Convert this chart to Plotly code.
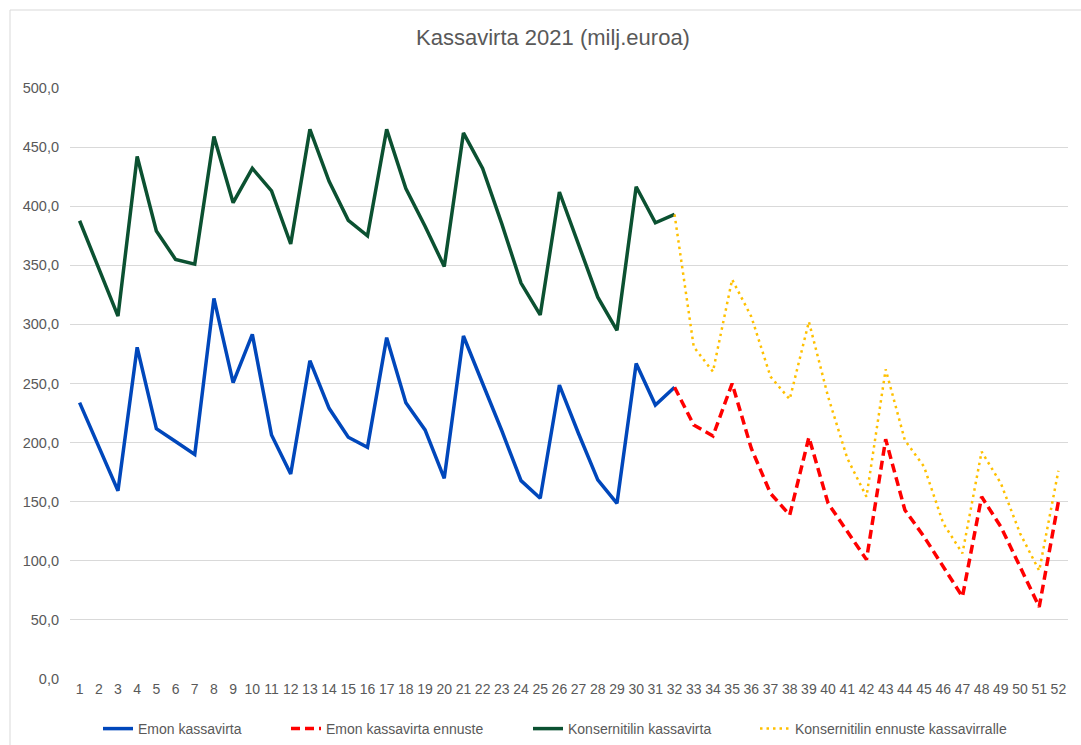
import plotly.graph_objects as go

weeks = list(range(1, 53))
weeks_actual = list(range(1, 33))
weeks_forecast = list(range(32, 53))

emon_kassavirta = [233.8, 197, 159.3, 280.6, 211.8, 201, 190, 322, 250.7, 291.6, 206.4, 173.4,
                   269.3, 229, 204.5, 196, 288.8, 233.8, 210.7, 169.8, 290.2, 250, 210, 167.8,
                   152.9, 248.7, 207.5, 168.4, 148.6, 267, 231.8, 246.8]
emon_ennuste = [246.8, 214.9, 205.6, 250, 195, 157, 138.7, 204.5, 148.6, 124.6, 101, 202.8,
                143, 120.4, 95, 69.6, 154.2, 128.8, 95, 61, 150]
konserni_kassavirta = [387.7, 347, 307, 442, 379, 355, 351, 459, 403, 432, 413, 368, 465, 421,
                       388, 375, 465, 415, 383, 349, 462, 432, 385, 335, 308, 412, 367, 323, 295,
                       416.5, 386, 393]
konserni_ennuste = [393, 281, 260, 338, 306.5, 255.8, 236.6, 302.3, 238.8, 186.7, 154.2, 262,
                    202, 179.6, 131.7, 106.3, 192.3, 165.6, 123.3, 91.6, 176.2]

y_ticks = [0, 50, 100, 150, 200, 250, 300, 350, 400, 450, 500]
series_names = ["Emon kassavirta", "Emon kassavirta ennuste",
                "Konsernitilin kassavirta", "Konsernitilin ennuste kassavirralle"]

FONT = "Liberation Sans, Arial, sans-serif"
TXT = "#595959"
GRID = "#D9D9D9"

W, H = 1081, 745
ML, MR, MT, MB = 70, 13, 88, 66
PW, PH = W - ML - MR, H - MT - MB


def px_x(px):
    return (px - ML) / PW


def px_y(py):
    return (H - MB - py) / PH


fig = go.Figure()
fig.add_trace(go.Scatter(x=weeks_actual, y=emon_kassavirta, mode="lines", name=series_names[0],
                         legend="legend", line=dict(color="#0047BB", width=3.5)))
fig.add_trace(go.Scatter(x=weeks_forecast, y=emon_ennuste, mode="lines", name=series_names[1],
                         legend="legend2", line=dict(color="#FF0000", width=3.5, dash="9px,5px")))
fig.add_trace(go.Scatter(x=weeks_actual, y=konserni_kassavirta, mode="lines", name=series_names[2],
                         legend="legend3", line=dict(color="#0B5131", width=3.5)))
fig.add_trace(go.Scatter(x=weeks_forecast, y=konserni_ennuste, mode="lines", name=series_names[3],
                         legend="legend4", line=dict(color="#FFC000", width=2.5, dash="2.5px,4px")))

text_starts = [140, 328, 570, 797]
legends = {}
for i, ts in enumerate(text_starts):
    key = "legend" if i == 0 else f"legend{i + 1}"
    legends[key] = dict(orientation="h", x=px_x(ts - 42), xanchor="left", y=px_y(729),
                        yanchor="middle", font=dict(size=14, color=TXT),
                        bgcolor="rgba(0,0,0,0)", borderwidth=0)

fig.update_layout(
    width=W, height=H,
    margin=dict(l=ML, r=MR, t=MT, b=MB, autoexpand=False),
    paper_bgcolor="white", plot_bgcolor="white",
    separators=", ",
    font=dict(family=FONT, size=14, color=TXT),
    title=dict(text="Kassavirta 2021 (milj.euroa)", xref="container", x=553 / W, xanchor="center",
               y=1 - 37 / H, yanchor="middle", font=dict(size=22, color=TXT)),
    showlegend=True,
    xaxis=dict(range=[0.5, 52.5], tickmode="array", tickvals=weeks, ticktext=[str(w) for w in weeks],
               showgrid=False, zeroline=False, showline=False, ticks="",
               tickfont=dict(size=14, color=TXT)),
    yaxis=dict(range=[0, 500], tickmode="array", tickvals=y_ticks,
               ticktext=[f"{v},0" for v in y_ticks],
               showgrid=True, gridcolor=GRID, gridwidth=1, zeroline=False, showline=False,
               ticks="", ticklabelstandoff=10, tickfont=dict(size=14.5, color=TXT)),
    shapes=[
        dict(type="line", xref="paper", yref="paper", x0=px_x(10), x1=1.1, y0=px_y(10),
             y1=px_y(10), line=dict(color=GRID, width=1)),
        dict(type="line", xref="paper", yref="paper", x0=px_x(10), x1=px_x(10), y0=-0.2,
             y1=px_y(10), line=dict(color=GRID, width=1)),
    ],
    **legends,
)

fig.write_html("out.html", config={"displayModeBar": False})

with open("out.html", "r", encoding="utf-8") as f:
    html = f.read()
html = html.replace("<body>", '<body style="margin:0;padding:0;overflow:hidden">', 1)
with open("out.html", "w", encoding="utf-8") as f:
    f.write(html)
